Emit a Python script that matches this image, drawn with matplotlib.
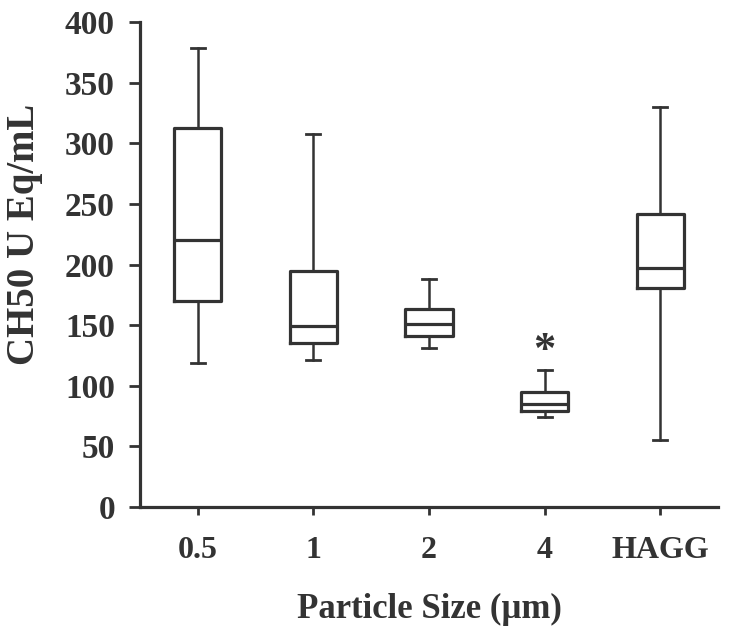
import matplotlib
matplotlib.use("Agg")
import matplotlib.pyplot as plt

# box plot summary values (CH50 U Eq/mL)
sizes = ["0.5", "1", "2", "4", "HAGG"]
whisker_low = [119, 121, 131, 74, 55]
q1 = [170, 135, 141, 79, 181]
median = [220, 149, 151, 85, 197]
q3 = [313, 195, 163, 95, 242]
whisker_high = [379, 308, 188, 113, 330]
significant = ["", "", "", "*", ""]

plt.rcParams["font.family"] = ["Liberation Serif", "DejaVu Serif"]
plt.rcParams["font.weight"] = "bold"

ink = "#333333"

fig = plt.figure(figsize=(7.29, 6.36), dpi=100)
ax = fig.add_axes([0.192, 0.203, 0.793, 0.762])

stats = []
for i in range(len(sizes)):
    stats.append({
        "label": sizes[i],
        "whislo": whisker_low[i],
        "q1": q1[i],
        "med": median[i],
        "q3": q3[i],
        "whishi": whisker_high[i],
        "fliers": [],
    })

ax.bxp(stats, positions=range(len(sizes)), widths=0.41, showfliers=False,
       boxprops=dict(color=ink, linewidth=2.3),
       medianprops=dict(color=ink, linewidth=2.3),
       whiskerprops=dict(color=ink, linewidth=1.8),
       capprops=dict(color=ink, linewidth=2.0),
       capwidths=0.12)

# significance marker above the whisker
for i, mark in enumerate(significant):
    if mark:
        ax.text(i, whisker_high[i] + 16, mark, ha="center", va="center",
                fontsize=32, color=ink, fontweight="bold")

ax.set_xlim(-0.5, 4.5)
ax.set_ylim(0, 400)
ax.set_yticks(range(0, 401, 50))
ax.set_xticks(range(len(sizes)))
ax.set_xticklabels(sizes)

for side in ["top", "right"]:
    ax.spines[side].set_visible(False)
for side in ["left", "bottom"]:
    ax.spines[side].set_color(ink)
    ax.spines[side].set_linewidth(2.3)

ax.tick_params(axis="y", direction="out", length=8, width=2, color=ink,
               labelsize=24, labelcolor=ink, pad=10)
ax.tick_params(axis="x", direction="out", length=6, width=2, color=ink,
               labelsize=23, labelcolor=ink, pad=15)

ax.set_ylabel("CH50 U Eq/mL", fontsize=28, fontweight="bold", color=ink)
ax.yaxis.set_label_coords(-0.168, 0.563)
ax.set_xlabel("Particle Size (\u00b5m)", fontsize=25, fontweight="bold",
              color=ink, labelpad=20)

fig.savefig("out.png", dpi=100)
